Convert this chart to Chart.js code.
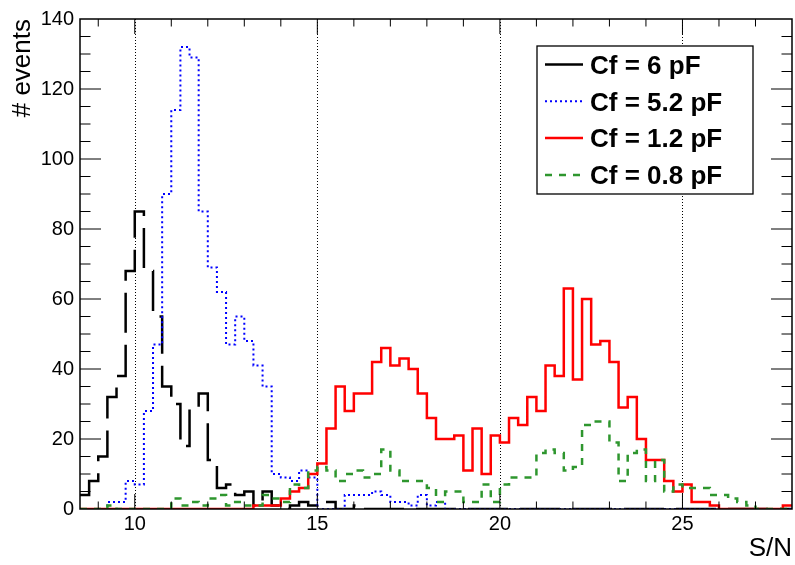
<!DOCTYPE html>
<html>
<head>
<meta charset="utf-8">
<title>S/N</title>
<script src="https://cdn.jsdelivr.net/npm/chart.js"></script>
<style>
  html, body { margin: 0; padding: 0; background: #fff; }
  canvas { display: block; }
</style>
</head>
<body>
<canvas id="chart" width="795" height="565"></canvas>
<script>
// Бины гистограммы: от 8.5 до 28 с шагом 0.25
const binStart = 8.5;
const binWidth = 0.25;

const xTicks = [10, 15, 20, 25];
const yTicks = [0, 20, 40, 60, 80, 100, 120, 140];

const seriesLabels = ['Cf = 6 pF', 'Cf = 5.2 pF', 'Cf = 1.2 pF', 'Cf = 0.8 pF'];

// Число событий в каждом бине
const cf6 = [4, 8, 15, 32, 38, 68, 85, 68, 55, 35, 30, 18, 29, 33, 14, 6, 7, 4, 5, 1,
  5, 1, 0, 1, 2, 1, 2, 2, 0, 0, 1, 0, 0, 0, 0, 0, 0, 0, 0, 0,
  0, 0, 0, 0, 0, 0, 0, 0, 0, 0, 0, 0, 0, 0, 0, 0, 0, 0, 0, 0,
  0, 0, 0, 0, 0, 0, 0, 0, 0, 0, 0, 0, 0, 0, 0, 0, 0, 0];
const cf52 = [0, 0, 0, 2, 2, 8, 7, 28, 47, 90, 114, 132, 129, 85, 69, 62, 47, 55, 48, 41,
  35, 10, 9, 8, 11, 9, 0, 0, 0, 4, 4, 4, 5, 4, 2, 2, 1, 4, 1, 2,
  0, 0, 0, 0, 0, 0, 0, 0, 0, 0, 0, 0, 0, 0, 0, 0, 0, 0, 0, 0,
  0, 0, 0, 0, 0, 0, 0, 0, 0, 0, 0, 0, 0, 0, 0, 0, 0, 0];
const cf12 = [0, 0, 0, 0, 0, 0, 0, 0, 0, 0, 0, 0, 0, 0, 0, 0, 0, 0, 0, 1,
  1, 1, 3, 5, 6, 10, 13, 23, 35, 28, 33, 33, 42, 46, 41, 43, 40, 33, 26, 20,
  20, 21, 11, 23, 10, 21, 19, 26, 24, 32, 28, 41, 38, 63, 37, 60, 47, 48, 42, 29,
  32, 20, 14, 14, 8, 5, 7, 2, 2, 1, 0, 0, 0, 0, 0, 0, 0, 1];
const cf08 = [0, 0, 0, 1, 0, 0, 0, 0, 0, 0, 3, 1, 2, 1, 3, 4, 1, 2, 1, 1,
  4, 3, 2, 7, 6, 11, 12, 11, 8, 10, 11, 9, 10, 17, 11, 8, 8, 8, 6, 2,
  5, 5, 2, 2, 7, 2, 7, 9, 9, 9, 16, 17, 16, 11, 12, 24, 25, 25, 19, 8,
  16, 17, 8, 14, 5, 7, 6, 6, 6, 4, 4, 3, 2, 1, 0, 0, 0, 0];

// Точки ступенчатой линии: левый край каждого бина + правый край последнего
function toSteps(values) {
  const points = values.map(function(v, i) {
    return { x: binStart + i * binWidth, y: v };
  });
  points.push({ x: binStart + values.length * binWidth, y: values[values.length - 1] });
  return points;
}

Chart.defaults.font.family = "'Liberation Sans', Arial, Helvetica, sans-serif";
Chart.defaults.color = '#000';

// Рамка, засечки внутрь, сетка и легенда в стиле ROOT
const rootFrame = {
  id: 'rootFrame',
  beforeDatasetsDraw(chart) {
    const { ctx, chartArea: a, scales: { x } } = chart;
    ctx.save();
    ctx.strokeStyle = '#000';
    ctx.lineWidth = 1;
    ctx.setLineDash([1, 2]);
    xTicks.forEach(function(v) {
      const px = Math.round(x.getPixelForValue(v)) + 0.5;
      ctx.beginPath();
      ctx.moveTo(px, a.top);
      ctx.lineTo(px, a.bottom);
      ctx.stroke();
    });
    ctx.restore();
  },
  afterDatasetsDraw(chart) {
    const { ctx, chartArea: a, scales: { x, y } } = chart;
    ctx.save();
    ctx.strokeStyle = '#000';
    ctx.setLineDash([]);
    ctx.lineWidth = 1.5;
    ctx.strokeRect(a.left, a.top, a.right - a.left, a.bottom - a.top);

    ctx.lineWidth = 1;
    ctx.beginPath();
    for (let v = 9; v < 28; v += 1) {
      const px = x.getPixelForValue(v);
      const len = xTicks.includes(v) ? 15 : 7.5;
      ctx.moveTo(px, a.bottom);
      ctx.lineTo(px, a.bottom - len);
      ctx.moveTo(px, a.top);
      ctx.lineTo(px, a.top + len);
    }
    for (let v = 5; v < 140; v += 5) {
      const py = y.getPixelForValue(v);
      const len = yTicks.includes(v) ? 21 : 10.5;
      ctx.moveTo(a.left, py);
      ctx.lineTo(a.left + len, py);
      ctx.moveTo(a.right, py);
      ctx.lineTo(a.right - len, py);
    }
    ctx.stroke();

    // легенда
    const lx = 537, ly = 46, lw = 216, lh = 148;
    ctx.fillStyle = '#fff';
    ctx.fillRect(lx, ly, lw, lh);
    ctx.lineWidth = 1.3;
    ctx.strokeStyle = '#000';
    ctx.strokeRect(lx, ly, lw, lh);

    ctx.font = "bold 26px 'Liberation Sans', Arial, sans-serif";
    ctx.textBaseline = 'alphabetic';
    ctx.textAlign = 'left';
    chart.data.datasets.forEach(function(ds, i) {
      const cy = 64.5 + i * 36.8;
      ctx.strokeStyle = ds.borderColor;
      ctx.lineWidth = ds.borderWidth;
      ctx.setLineDash(ds.borderDash || []);
      ctx.beginPath();
      ctx.moveTo(545, cy);
      ctx.lineTo(583, cy);
      ctx.stroke();
      ctx.fillStyle = '#000';
      ctx.fillText(ds.label, 590, cy + 9.3);
    });
    ctx.restore();
  }
};

const ctx = document.getElementById('chart').getContext('2d');
const chart = new Chart(ctx, {
  type: 'line',
  data: {
    datasets: [
      {
        label: seriesLabels[0],
        data: toSteps(cf6),
        borderColor: '#000000',
        borderWidth: 2.5,
        borderDash: [40, 12]
      },
      {
        label: seriesLabels[1],
        data: toSteps(cf52),
        borderColor: '#0000ff',
        borderWidth: 2,
        borderDash: [2, 3]
      },
      {
        label: seriesLabels[2],
        data: toSteps(cf12),
        borderColor: '#ff0000',
        borderWidth: 2.5
      },
      {
        label: seriesLabels[3],
        data: toSteps(cf08),
        borderColor: '#2e962e',
        borderWidth: 2.5,
        borderDash: [7, 7]
      }
    ].map(function(ds, i) {
      ds.stepped = true;
      ds.pointRadius = 0;
      ds.fill = false;
      ds.order = 3 - i;
      return ds;
    })
  },
  options: {
    responsive: false,
    animation: false,
    layout: { padding: { top: 19, right: 3, left: 0, bottom: 0 } },
    plugins: {
      legend: { display: false },
      tooltip: { enabled: false }
    },
    scales: {
      x: {
        type: 'linear',
        min: 8.5,
        max: 28,
        afterBuildTicks: function(scale) {
          scale.ticks = xTicks.map(function(v) { return { value: v }; });
        },
        afterFit: function(scale) { scale.height = 56; },
        grid: { display: false, drawTicks: false },
        border: { display: false },
        ticks: { font: { size: 20 }, padding: 3, maxRotation: 0, autoSkip: false },
        title: {
          display: true,
          text: 'S/N',
          align: 'end',
          font: { size: 26 },
          padding: { top: 0, bottom: 1 }
        }
      },
      y: {
        min: 0,
        max: 140,
        afterBuildTicks: function(scale) {
          scale.ticks = yTicks.map(function(v) { return { value: v }; });
        },
        afterFit: function(scale) { scale.width = 80; },
        grid: { display: false, drawTicks: false },
        border: { display: false },
        ticks: { font: { size: 20 }, padding: 6, autoSkip: false },
        title: {
          display: true,
          text: '# events',
          align: 'end',
          font: { size: 26 },
          padding: { top: 7, bottom: 0 }
        }
      }
    }
  },
  plugins: [rootFrame]
});
</script>
</body>
</html>
